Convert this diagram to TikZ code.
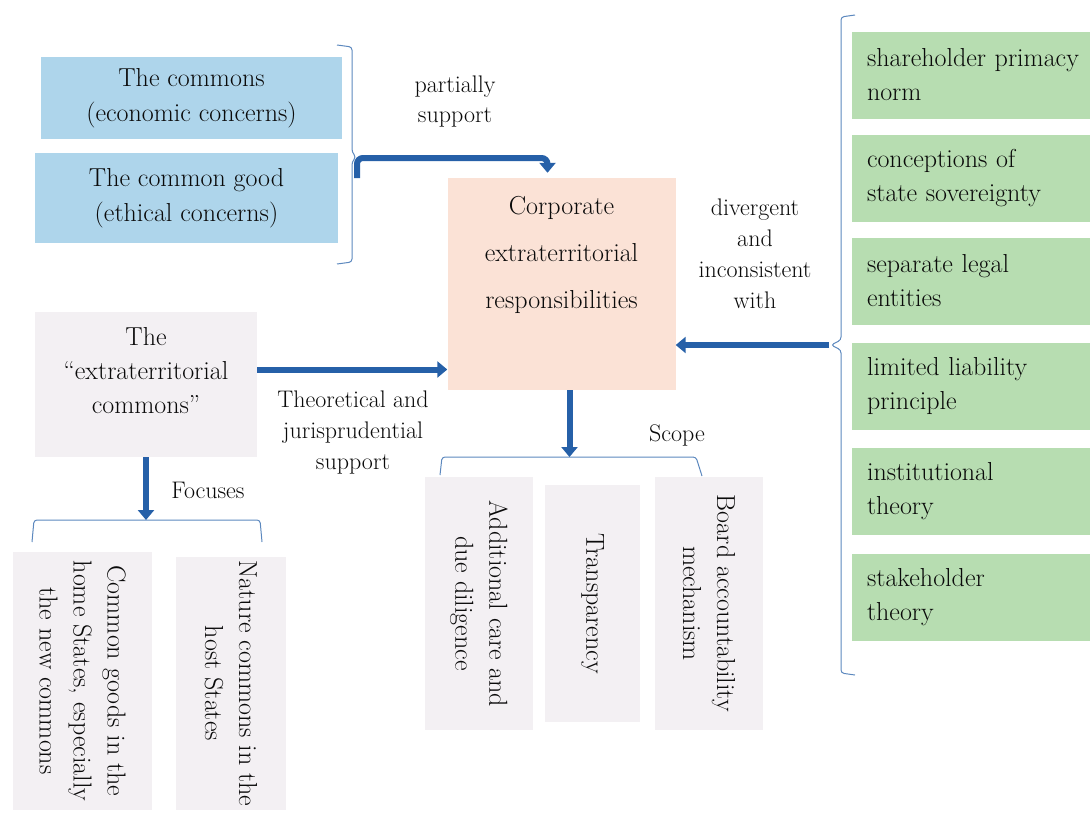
\documentclass[tikz,border=0pt]{standalone}
\usepackage{tikz}
\usetikzlibrary{arrows.meta}

\definecolor{boxblue}{RGB}{174,213,235}
\definecolor{boxorange}{RGB}{251,226,214}
\definecolor{boxgrey}{RGB}{243,240,243}
\definecolor{boxgreen}{RGB}{183,221,177}
\definecolor{arrowblue}{RGB}{38,96,168}
\definecolor{bracketblue}{RGB}{92,136,190}
\definecolor{inktext}{RGB}{10,10,10}

\tikzset{
    boxtxt/.style={font=\fontsize{26}{34}\selectfont, text=inktext, align=center, inner sep=0pt},
    lbltxt/.style={font=\fontsize{24}{31}\selectfont, text=inktext, align=center, inner sep=0pt},
    greenbox/.style={boxtxt, fill=boxgreen, align=left, text width=222pt, inner xsep=15pt,
        minimum height=87pt},
    vbox/.style={boxtxt, fill=boxgrey, rotate=-90},
    bigarrow/.style={arrowblue, line width=6pt, -{Triangle[length=10pt,width=16pt]}},
    bracket/.style={bracketblue, line width=1pt, rounded corners=3pt},
}

\begin{document}
\begin{tikzpicture}[x=1pt, y=-1pt]
    \useasboundingbox (0,0) rectangle (1090,814);

    % Commons and common good
    \node[boxtxt, fill=boxblue, minimum width=301pt, minimum height=82pt,
        font=\fontsize{26}{35}\selectfont] (commons) at (191.5,98)
        {The commons\\(economic concerns)};
    \node[boxtxt, fill=boxblue, minimum width=303pt, minimum height=90pt,
        font=\fontsize{26}{35}\selectfont] (commongood) at (186.5,198)
        {The common good\\(ethical concerns)};
    \draw[bracket] (337,45) -- (352,47) -- (352,152) -- (356,157) -- (352,162)
        -- (352,262) -- (337,264);
    \coordinate (lbstart) at (357,178);
    \coordinate (lbtip) at (357,158);

    % Central box
    \node[fill=boxorange, minimum width=228pt, minimum height=212pt, inner sep=0pt]
        (corp) at (561.5,284) {};
    \node[boxtxt, font=\fontsize{26}{47}\selectfont] (corptext) at (561.5,255)
        {Corporate\\extraterritorial\\responsibilities};

    \draw[bigarrow, rounded corners=6pt] (lbstart) -- (lbtip)
        -| ([xshift=-14pt,yshift=5pt]corp.north);
    \node[lbltxt, font=\fontsize{24}{30}\selectfont] (lblpartial) at (455,102)
        {partially\\support};

    % Right column
    \node[greenbox] (shareholder) at (978,75) {shareholder primacy\\norm};
    \node[greenbox] (sovereignty) at (978,178) {conceptions of\\state sovereignty};
    \node[greenbox] (legal) at (978,281) {separate legal\\entities};
    \node[greenbox] (liability) at (978,386) {limited liability\\principle};
    \node[greenbox] (institutional) at (978,491) {institutional\\theory};
    \node[greenbox] (stakeholder) at (978,597) {stakeholder\\theory};
    \draw[bracket] (855,15) -- (841,17) -- (841,340) -- (831,345) -- (841,350)
        -- (841,673) -- (855,675);
    \coordinate (rbtip) at (829,345);
    \draw[bigarrow] (rbtip) -- (rbtip -| corp.east);
    \node[lbltxt] (lbldivergent) at (755,254)
        {divergent\\and\\inconsistent\\with};

    % Extraterritorial commons
    \node[fill=boxgrey, minimum width=222pt, minimum height=145pt, inner sep=0pt]
        (extcommons) at (146,384.5) {};
    \node[boxtxt, font=\fontsize{26}{34}\selectfont] (extctext) at (146,371)
        {The\\``extraterritorial\\commons''};
    \draw[bigarrow] ([yshift=15pt]extcommons.east) -- ([yshift=15pt]extcommons.east -| corp.west);
    \node[lbltxt] (lbltheory) at (353,433)
        {Theoretical and\\jurisprudential\\support};

    % Focuses
    \coordinate (fbar) at (146,520);
    \draw[bracket] (32,542) -- (34,520) -- (260,520) -- (262,542);
    \draw[bigarrow] (extcommons.south) -- (extcommons.south |- fbar);
    \node[lbltxt] (lblfocus) at (208,490) {Focuses};
    \node[vbox, minimum width=258pt, minimum height=139pt] (homegoods) at (82.5,681)
        {Common goods in the\\home States, especially\\the new commons};
    \node[vbox, minimum width=253pt, minimum height=110pt] (naturecommons) at (231,683.5)
        {Nature commons in the\\host States};

    % Scope
    \coordinate (sbar) at (569,457);
    \draw[bracket] (440,475) -- (442,457) -- (696,457) -- (702,476);
    \draw[bigarrow] ([xshift=8pt]corp.south) -- ([xshift=8pt]corp.south |- sbar);
    \node[lbltxt] (lblscope) at (677,435) {Scope};
    \node[vbox, minimum width=253pt, minimum height=108pt] (care) at (479,603.5)
        {Additional care and\\due diligence};
    \node[vbox, minimum width=237pt, minimum height=95pt] (transparency) at (592.5,603.5)
        {Transparency};
    \node[vbox, minimum width=253pt, minimum height=108pt] (board) at (709,603.5)
        {Board accountability\\mechanism};
\end{tikzpicture}
\end{document}
